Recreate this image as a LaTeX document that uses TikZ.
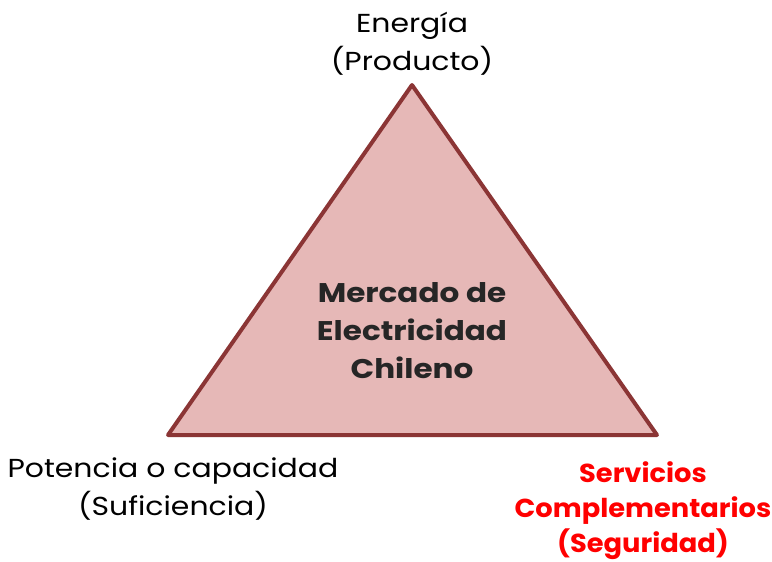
\documentclass[tikz,border=0pt]{standalone}
\usepackage{fontspec}
\setmainfont{Poppins}
\newfontfamily\wideregular{Poppins}[FakeStretch=1.15]
\newfontfamily\widebold{Poppins Bold}[FakeStretch=1.15]
\newfontfamily\redbold{Poppins Bold}[FakeStretch=1.05]
\definecolor{trifill}{HTML}{E6B8B7}
\definecolor{tridraw}{HTML}{8B3535}
\definecolor{darktext}{HTML}{262626}
\begin{document}
\begin{tikzpicture}[x=1pt,y=-1pt,
  lbl/.style={align=center,inner sep=0pt,font=\wideregular\fontsize{26}{38}\selectfont},
  blbl/.style={align=center,inner sep=0pt,text=darktext,font=\widebold\fontsize{27}{38}\selectfont},
  rlbl/.style={align=center,inner sep=0pt,text=red,font=\redbold\fontsize{26}{35}\selectfont}]
\useasboundingbox (0,0) rectangle (772,562);
\coordinate (top) at (412,85);
\coordinate (bl) at (168,435);
\coordinate (br) at (657,435);
\draw[fill=trifill,draw=tridraw,line width=4pt,line join=round] (top) -- (bl) -- (br) -- cycle;
\node[blbl] (center) at (412,331) {Mercado de\\Electricidad\\Chileno};
\node[lbl] (energia) at (412,43.5) {Energía\\(Producto)};
\node[lbl] (potencia) at (173,489.5) {Potencia o capacidad\\(Suficiencia)};
\node[rlbl] (servicios) at (643,511) {Servicios\\Complementarios\\(Seguridad)};
\end{tikzpicture}
\end{document}
